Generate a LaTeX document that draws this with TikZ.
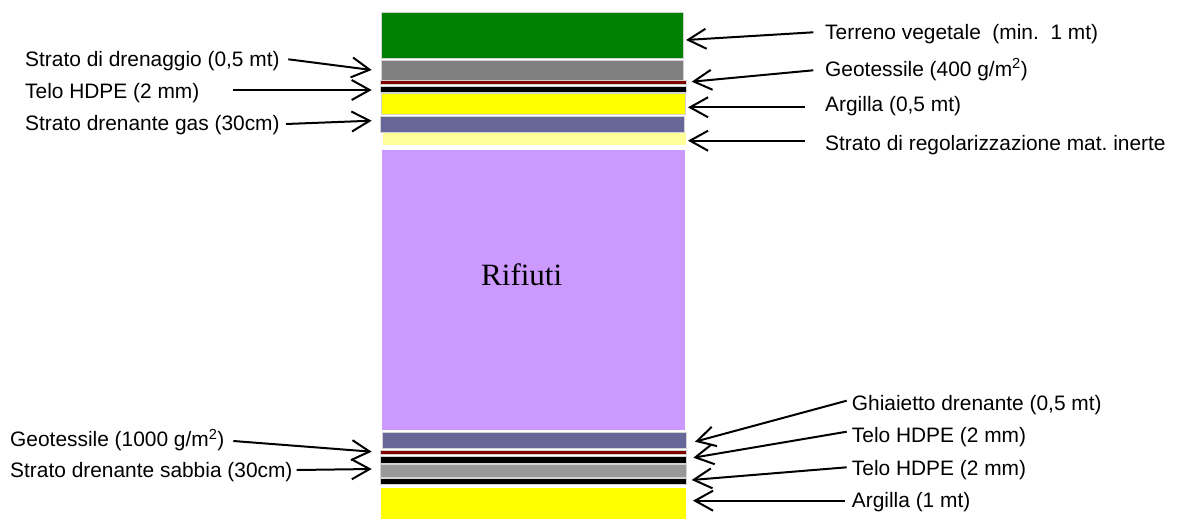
\documentclass[tikz,border=0pt]{standalone}
\usepackage{fontspec}
\setmainfont{Liberation Sans}
\newfontfamily\serifrm{Liberation Serif}
\usetikzlibrary{arrows.meta}
\definecolor{cgreen}{HTML}{008000}
\definecolor{cgray}{HTML}{808080}
\definecolor{cgrayb}{HTML}{999999}
\definecolor{cred}{HTML}{800000}
\definecolor{cyel}{HTML}{FFFF00}
\definecolor{cslate}{HTML}{666699}
\definecolor{clyel}{HTML}{FFFF99}
\definecolor{clilac}{HTML}{CC99FF}
\tikzset{
  layer/.style={draw=gray!35, line width=0.6pt, inner sep=0pt, outer sep=0pt},
  lbl/.style={font=\fontsize{20.9}{24}\selectfont, inner sep=0pt, anchor=base west},
  arr/.style={line width=2pt, -{Straight Barb[length=18pt,width=20pt,line width=2pt]}}
}
\begin{document}
\frenchspacing
\begin{tikzpicture}[x=1pt,y=-1pt]
\useasboundingbox (0,0) rectangle (1178,519);
% layers
\node[layer, fill=cgreen, minimum width=302pt, minimum height=46pt] (terreno) at (532.3,35.3) {};
\node[layer, fill=cgray, minimum width=302pt, minimum height=19.3pt] (dren) at (532,70.3) {};
\node[layer, fill=cred, minimum width=306.7pt, minimum height=4.4pt] (geo1) at (533.3,82.5) {};
\node[layer, fill=black, minimum width=306.7pt, minimum height=6pt] (hdpe1) at (533.3,89.3) {};
\node[layer, fill=cyel, minimum width=304pt, minimum height=21pt] (arg1) at (533,103.8) {};
\node[layer, fill=cslate, minimum width=304pt, minimum height=16.4pt] (gas) at (532.3,124.5) {};
\node[layer, fill=clyel, draw=clyel, minimum width=302pt, minimum height=11pt] (reg) at (534,138.8) {};
\node[layer, fill=clilac, draw=white, minimum width=304pt, minimum height=281.7pt] (rif) at (533,289.8) {};
\node[layer, fill=cslate, minimum width=304pt, minimum height=16pt] (ghia) at (534,440.7) {};
\node[layer, fill=cred, minimum width=306.7pt, minimum height=4pt] (geo2) at (533.3,452.7) {};
\node[layer, fill=black, minimum width=306.7pt, minimum height=6.3pt] (hdpe2) at (533.3,459.8) {};
\node[layer, fill=cgrayb, minimum width=305.3pt, minimum height=12.3pt] (sabbia) at (533.3,470.8) {};
\node[layer, fill=black, minimum width=306.7pt, minimum height=6pt] (hdpe3) at (533.3,481.7) {};
\node[layer, fill=cyel, draw=cyel, minimum width=304pt, minimum height=31.3pt] (arg2) at (533,503.7) {};
\node[font=\serifrm\fontsize{31}{36}\selectfont, inner sep=0pt, anchor=base] (rift) at (521.7,285) {Rifiuti};
% right labels
\node[lbl] (lterreno) at (825,39.3) {Terreno vegetale\ \ (min.\ \ 1 mt)};
\node[lbl] (lgeo1) at (825,76.5) {Geotessile (400 g/m\textsuperscript{2})};
\node[lbl] (larg1) at (825,111.7) {Argilla (0,5 mt)};
\node[lbl] (lreg) at (825,150) {Strato di regolarizzazione mat. inerte};
\node[lbl] (lghia) at (851.7,410) {Ghiaietto drenante (0,5 mt)};
\node[lbl] (lhdpe2) at (851.7,442.7) {Telo HDPE (2 mm)};
\node[lbl] (lhdpe3) at (851.7,475) {Telo HDPE (2 mm)};
\node[lbl] (larg2) at (851.7,507.3) {Argilla (1 mt)};
% left labels
\node[lbl] (ldren) at (25,66.7) {Strato di drenaggio (0,5 mt)};
\node[lbl] (lhdpe1) at (25,98.3) {Telo HDPE (2 mm)};
\node[lbl] (lgas) at (25,130.7) {Strato drenante gas (30cm)};
\node[lbl] (lgeo2) at (10,446.7) {Geotessile (1000 g/m\textsuperscript{2})};
\node[lbl] (lsabbia) at (10,477.3) {Strato drenante sabbia (30cm)};
% connector end points
\coordinate (sterreno) at (813.3,32.3); \coordinate (tterreno) at (686,40);
\coordinate (sgeo1) at (813.3,70.3);    \coordinate (tgeo1) at (691.7,81.7);
\coordinate (sarg1) at (805,107.3);     \coordinate (targ1) at (688,107.3);
\coordinate (sreg) at (805,140.7);      \coordinate (treg) at (688,140.7);
\coordinate (sghia) at (846.7,400.7);   \coordinate (tghia) at (695,441.7);
\coordinate (shdpe2) at (846.7,431.7);  \coordinate (thdpe2) at (693.3,457.7);
\coordinate (shdpe3) at (846.7,467.3);  \coordinate (thdpe3) at (691.7,480);
\coordinate (sarg2) at (845,500.7);     \coordinate (targ2) at (693,500.7);
\coordinate (sdren) at (288.3,59.3);    \coordinate (tdren) at (371.7,70);
\coordinate (shdpe1) at (233.3,90);     \coordinate (thdpe1) at (371.7,90);
\coordinate (sgas) at (286,124);        \coordinate (tgas) at (371.7,120.7);
\coordinate (sgeo2) at (233.3,441);     \coordinate (tgeo2) at (371.7,451.7);
\coordinate (ssabbia) at (296.7,470);   \coordinate (tsabbia) at (371.7,469);
% connectors
\foreach \n in {terreno,geo1,arg1,reg,ghia,hdpe2,hdpe3,arg2,dren,hdpe1,gas,geo2,sabbia}
  \draw[arr] (s\n) -- (t\n);
\end{tikzpicture}
\end{document}
